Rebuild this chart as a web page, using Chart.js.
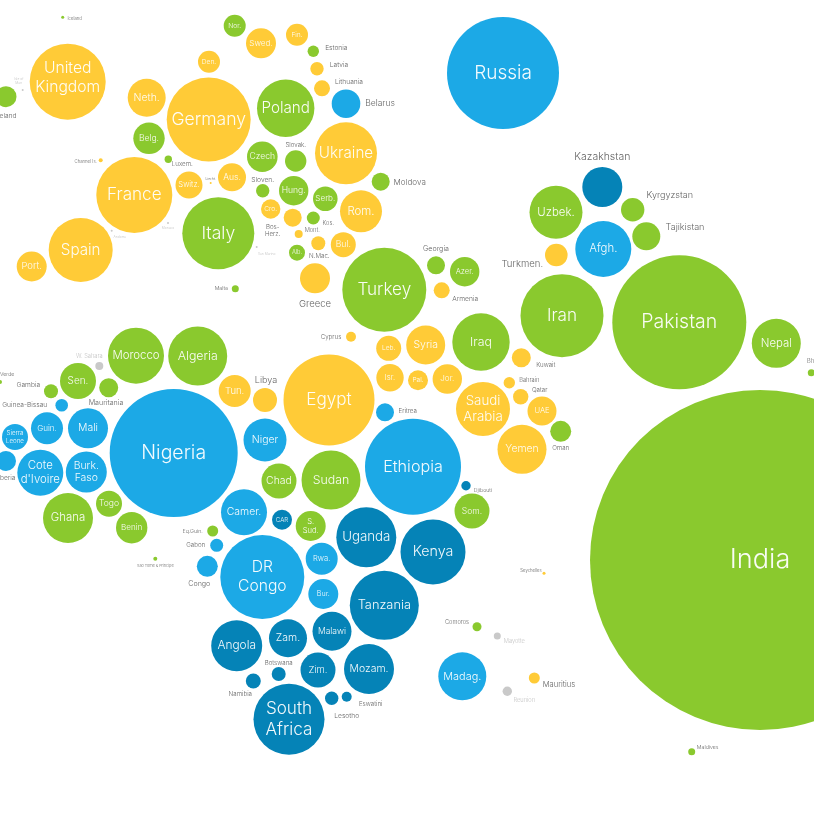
<!DOCTYPE html>
<html>
<head>
<meta charset="utf-8">
<script src="https://cdn.jsdelivr.net/npm/chart.js@4"></script>
<style>
  html, body { margin: 0; padding: 0; background: #fff; overflow: hidden; }
  #wrap { width: 814px; height: 822px; }
  canvas { display: block; filter: blur(0.7px); }
</style>
</head>
<body>
<div id="wrap"><canvas id="map" width="814" height="822"></canvas></div>
<script>
// x, y are on the 814 x 822 map grid, r is the bubble radius
const yellowNames = ['United Kingdom','Netherlands','Germany','Denmark','France','Spain','Portugal','Switzerland','Austria','Sweden','Finland','Latvia','Lithuania','Ukraine','Romania','Croatia','Bosnia-Herz.','Montenegro','North Macedonia','Bulgaria','Greece','Channel Islands','Armenia','Cyprus','Lebanon','Syria','Israel','Palestine','Jordan','Kuwait','Bahrain','Qatar','UAE','Saudi Arabia','Yemen','Egypt','Tunisia','Libya','Turkmenistan','Mauritius','Seychelles','Liechtenstein'];
const yellowX = [67.7,146.7,208.7,209,134.3,80.7,31.7,189,232,261,297,317,322,346,361,270.7,292.7,298.7,318.3,343.3,315,100.7,441.7,351,388.7,425.7,390,418,447.3,521.3,509.3,520.7,542,483,522,329,234.7,265,556.3,534.3,544,210.7];
const yellowY = [81.7,97.7,119.5,61.7,195,250,266.5,185,177.3,43.3,34.7,68.7,88.3,153.3,211.3,209,217.7,234,243.3,244.7,278.3,160.3,290.3,336.7,348.3,345,377.7,380.3,379,357.7,382.7,396.7,411,409,449.3,400,391,400,255,678,573.3,183];
const yellowR = [38,19,42,11,38,32,15,13.5,14,15,11,6.7,8,31,21,9.7,9,4,7,12.5,15,2,8,5,12.5,19.5,13.7,10,14.7,9.5,5.7,7.7,14.5,27,24.5,45.5,16,12,11.3,5.5,1.5,1];

const greenNames = ['Ireland','Belgium','Luxembourg','Italy','Poland','Norway','Estonia','Czechia','Slovakia','Hungary','Slovenia','Serbia','Kosovo','Albania','Moldova','Turkey','Georgia','Azerbaijan','Iraq','Oman','Uzbekistan','Kyrgyzstan','Tajikistan','Iran','Pakistan','Nepal','Bhutan','India','Morocco','Algeria','Senegal','Gambia','Mauritania','Ghana','Togo','Benin','Eq. Guinea','Sao Tome','Chad','Sudan','South Sudan','Somalia','Comoros','Maldives','Malta','Iceland','Cape Verde'];
const greenX = [6,149,168.3,218.3,285.7,234.7,313.3,262.3,295.7,293.7,262.7,325.3,313.3,297,380.7,384.3,436,464.7,481,560.7,556,632.7,646.3,562,679.3,776.3,811.3,760,136,197.7,78,51,108.7,68,109,131.7,212.7,155.3,279,331,310.7,472,477,691.7,235.3,62.7,0];
const greenY = [96.7,138.3,159.3,233.3,108.3,25.7,51.3,156.7,161,190.7,190.7,198.7,218,252.7,181.7,289.7,265.3,271.7,342,431.3,212.3,209.7,236.3,315.7,322.3,343.3,372.7,560,355.7,356,381,391.3,387.7,518,503.7,527.7,531,558.7,481,480,526,511,626.7,751.7,288.7,17.3,382];
const greenR = [10.5,15.7,3.7,36,28.7,11,5.7,15.3,10.7,14.7,6.7,12.3,6.5,8,9,42,9,14.7,28.7,10.5,26.5,11.7,14,41.5,67,24.5,3.5,170,28,29.5,18,7,9.5,25,13,15.7,5.5,2,17.5,29.5,15,17.5,4.5,3.5,3.5,1.5,2];

const blueNames = ['Russia','Belarus','Afghanistan','Nigeria','Niger','Mali','Guinea','Sierra Leone','Liberia','Cote d\'Ivoire','Burkina Faso','Guinea-Bissau','Cameroon','Gabon','Congo','DR Congo','Rwanda','Burundi','Eritrea','Ethiopia','Madagascar'];
const blueX = [503,346,603.3,173.7,265,88,47,15,6,40.3,86.3,61.7,244,216.7,207.3,262.3,321.7,323.3,385,413,462.3];
const blueY = [73,103.7,249,453,440,428.3,428.3,437,461,472.7,472,405.3,512.3,545.3,566.3,577,558.7,594,412.3,466.7,676.3];
const blueR = [56,14.3,28,64,21.5,20,16,13,10,23,20.5,6.3,23,6.5,10.5,42,16,15,9,48,24];

const darkNames = ['Kazakhstan','CAR','Uganda','Kenya','Tanzania','Malawi','Zambia','Angola','Zimbabwe','Mozambique','Botswana','Namibia','South Africa','Lesotho','Eswatini','Djibouti'];
const darkX = [602.3,282,366.3,433,384.3,332,288,236.7,318,369,278.7,253.3,289,331.7,346.7,466];
const darkY = [187,519.7,537.3,552,605.3,631.3,638.3,645.7,670,669,674,681,719.3,698.3,696.7,485.7];
const darkR = [20,10,30,32.5,34.5,19.5,19,25.5,17.5,25,7,7.5,35.5,6.7,5,4.7];

const greyNames = ['W. Sahara','Mayotte','Reunion','Isle of Man','Andorra','Monaco','San Marino'];
const greyX = [99.3,497.3,507.3,22.7,111.7,168,256.7];
const greyY = [366,636,691.3,90,230.7,223,247];
const greyR = [4,3.5,4.7,1,1,1,1];

// text shown inside a bubble: lines, font size, optional vertical nudge
const insideLabels = {
  'United Kingdom':[['United','Kingdom'],16.5,-4],'Netherlands':[['Neth.'],11],'Germany':[['Germany'],18.5],'Denmark':[['Den.'],7],'France':[['France'],18],'Spain':[['Spain'],16],'Portugal':[['Port.'],10],'Switzerland':[['Switz.'],8],'Austria':[['Aus.'],9],'Sweden':[['Swed.'],8.5],'Finland':[['Fin.'],7],'Ukraine':[['Ukraine'],16],'Romania':[['Rom.'],12],'Croatia':[['Cro.'],7],'Bulgaria':[['Bul.'],9],'Lebanon':[['Leb.'],7],'Syria':[['Syria'],11],'Israel':[['Isr.'],8],'Palestine':[['Pal.'],7],'Jordan':[['Jor.'],8.5],'UAE':[['UAE'],8],'Saudi Arabia':[['Saudi','Arabia'],14],'Yemen':[['Yemen'],11],'Egypt':[['Egypt'],18],'Tunisia':[['Tun.'],10],
  'Belgium':[['Belg.'],9],'Italy':[['Italy'],18.5],'Poland':[['Poland'],16],'Norway':[['Nor.'],7],'Czechia':[['Czech'],9],'Hungary':[['Hung.'],9],'Serbia':[['Serb.'],8.5],'Albania':[['Alb.'],6],'Turkey':[['Turkey'],18],'Azerbaijan':[['Azer.'],8],'Iraq':[['Iraq'],13],'Uzbekistan':[['Uzbek.'],12],'Iran':[['Iran'],18],'Pakistan':[['Pakistan'],20.5],'Nepal':[['Nepal'],12],'India':[['India'],28.5],'Morocco':[['Morocco'],12],'Algeria':[['Algeria'],13],'Senegal':[['Sen.'],10.5],'Ghana':[['Ghana'],12],'Togo':[['Togo'],9],'Benin':[['Benin'],8.5],'Chad':[['Chad'],11],'Sudan':[['Sudan'],13],'South Sudan':[['S.','Sud.'],8],'Somalia':[['Som.'],9],
  'Russia':[['Russia'],20],'Afghanistan':[['Afgh.'],12],'Nigeria':[['Nigeria'],20.5],'Niger':[['Niger'],11],'Mali':[['Mali'],11],'Guinea':[['Guin.'],8.5],'Sierra Leone':[['Sierra','Leone'],6.5],'Cote d\'Ivoire':[['Cote','d\'Ivoire'],12],'Burkina Faso':[['Burk.','Faso'],11],'Cameroon':[['Camer.'],11],'DR Congo':[['DR','Congo'],16.5],'Rwanda':[['Rwa.'],8],'Burundi':[['Bur.'],7.5],'Ethiopia':[['Ethiopia'],17],'Madagascar':[['Madag.'],11.5],
  'CAR':[['CAR'],6.5],'Uganda':[['Uganda'],14],'Kenya':[['Kenya'],15],'Tanzania':[['Tanzania'],13.5],'Malawi':[['Malawi'],9],'Zambia':[['Zam.'],11],'Angola':[['Angola'],12.5],'Zimbabwe':[['Zim.'],10],'Mozambique':[['Mozam.'],11],'South Africa':[['South','Africa'],18]
};

// text beside a bubble: lines, offset from the bubble centre, font size
const outsideLabels = {
  'Ireland':[['Ireland'],0,19,7],'Estonia':[['Estonia'],23,-3,7],'Latvia':[['Latvia'],22,-3.4,7],'Lithuania':[['Lithuania'],27,-6.6,7],'Belarus':[['Belarus'],34,0,9],'Moldova':[['Moldova'],29,1,8.5],'Slovakia':[['Slovak.'],0,-16,6.5],'Slovenia':[['Sloven.'],0,-11,7],'Bosnia-Herz.':[['Bos-','Herz.'],-20,13,6.5],'Montenegro':[['Mont.'],13.5,-4,6],'Kosovo':[['Kos.'],15,5,6],'North Macedonia':[['N.Mac.'],1,13,6.5],'Greece':[['Greece'],0,26,10],'Georgia':[['Georgia'],0,-16,7.5],'Armenia':[['Armenia'],23.5,8.7,7],'Cyprus':[['Cyprus'],-20,0,6.5],'Kuwait':[['Kuwait'],24.5,7,6.5],'Bahrain':[['Bahrain'],20,-2.7,6],'Qatar':[['Qatar'],19,-6.4,6.5],'Oman':[['Oman'],0,17,6.5],'Eritrea':[['Eritrea'],22.7,-1.3,6.5],'Djibouti':[['Djibouti'],17,5,5.5],'Kazakhstan':[['Kazakhstan'],0,-30,11],'Kyrgyzstan':[['Kyrgyzstan'],37,-14,9.5],'Tajikistan':[['Tajikistan'],38.7,-8.6,9.5],'Turkmenistan':[['Turkmen.'],-34,8.7,10],'Bhutan':[['Bhutan'],5,-11,6],'Libya':[['Libya'],1,-20,9.5],'Mauritania':[['Mauritania'],-2.7,15.6,7.5],'W. Sahara':[['W. Sahara'],-10,-10,6],'Gambia':[['Gambia'],-22.7,-6.3,7],'Guinea-Bissau':[['Guinea-Bissau'],-37,0,7],'Cape Verde':[['Cape Verde'],0,-8,5.5],'Liberia':[['Liberia'],-1,17,7],'Eq. Guinea':[['Eq.Guin.'],-20,0,5.5],'Gabon':[['Gabon'],-21,0,6.5],'Congo':[['Congo'],-8,17.4,7.5],'Sao Tome':[['Sao Tome & Principe'],0,7.3,4],'Botswana':[['Botswana'],0,-11.3,6.5],'Namibia':[['Namibia'],-13,13,6.5],'Lesotho':[['Lesotho'],15,17.4,7],'Eswatini':[['Eswatini'],24,7.6,6.5],'Comoros':[['Comoros'],-20,-4.7,6],'Mayotte':[['Mayotte'],17,5.7,6],'Reunion':[['Reunion'],17,9,6],'Mauritius':[['Mauritius'],24.7,7,8],'Seychelles':[['Seychelles'],-13,-3,4.5],'Maldives':[['Maldives'],16,-4.7,5.5],'Luxembourg':[['Luxem.'],14,5,6.5],'Channel Islands':[['Channel Is.'],-15,1,4.5],'Malta':[['Malta'],-14,0,5.5],'Iceland':[['Iceland'],12,1,4.5],'Isle of Man':[['Isle of','Man'],-4,-9,3.5],'Andorra':[['Andorra'],8,6,3.5],'Monaco':[['Monaco'],0,5,3.5],'Liechtenstein':[['Liecht.'],0,-4,3.5],'San Marino':[['San Marino'],10,7,3.5]
};

const LIGHT_LABELS = ['W. Sahara','Mayotte','Reunion','Isle of Man','Andorra','Monaco','San Marino'];

function series(label, names, xs, ys, rs, color) {
  return {
    label,
    names,
    data: xs.map((x, i) => ({ x, y: ys[i], r: rs[i] })),
    backgroundColor: color,
    borderWidth: 0,
    hoverBorderWidth: 0
  };
}

const labelPlugin = {
  id: 'countryLabels',
  afterDatasetsDraw(chart) {
    const ctx = chart.ctx;
    ctx.save();
    ctx.textAlign = 'center';
    ctx.textBaseline = 'middle';
    chart.data.datasets.forEach((ds, d) => {
      chart.getDatasetMeta(d).data.forEach((el, i) => {
        const name = ds.names[i];
        const inside = insideLabels[name];
        const outside = outsideLabels[name];
        let lines, cx = el.x, cy = el.y, size;
        if (inside) {
          lines = inside[0];
          size = inside[1];
          cy += inside[2] || 0;
          ctx.fillStyle = 'rgba(255,255,255,0.95)';
        } else if (outside) {
          lines = outside[0];
          cx += outside[1];
          cy += outside[2];
          size = outside[3];
          ctx.fillStyle = LIGHT_LABELS.includes(name) ? '#c4c4c4' : '#666';
        } else return;
        ctx.font = `300 ${size * 0.95}px Inter, "Liberation Sans", sans-serif`;
        const lh = size * 1.14;
        lines.forEach((line, n) => {
          ctx.fillText(line, cx, cy + (n - (lines.length - 1) / 2) * lh);
        });
      });
    });
    ctx.restore();
  }
};

new Chart(document.getElementById('map'), {
  type: 'bubble',
  data: {
    datasets: [
      series('Group A', yellowNames, yellowX, yellowY, yellowR, '#ffcb37'),
      series('Group B', greenNames, greenX, greenY, greenR, '#8ac92e'),
      series('Group C', blueNames, blueX, blueY, blueR, '#1ca9e6'),
      series('Group D', darkNames, darkX, darkY, darkR, '#0583b7'),
      series('No data', greyNames, greyX, greyY, greyR, '#c9c9c9')
    ]
  },
  options: {
    responsive: false,
    animation: false,
    layout: { padding: 0, autoPadding: false },
    plugins: { legend: { display: false }, tooltip: { enabled: false } },
    scales: {
      x: { type: 'linear', min: 0, max: 814, display: false },
      y: { type: 'linear', min: 0, max: 822, reverse: true, display: false }
    }
  },
  plugins: [labelPlugin]
});
</script>
</body>
</html>
